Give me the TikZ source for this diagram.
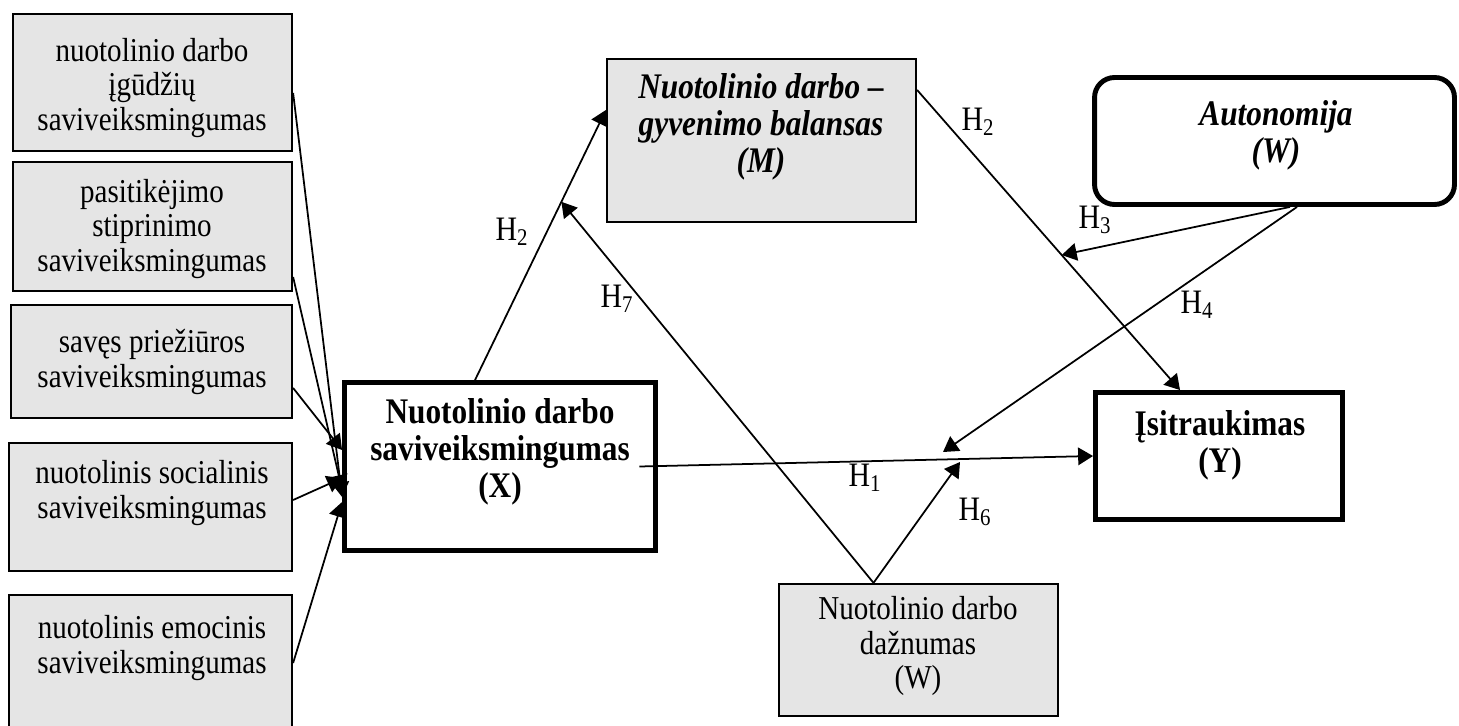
\documentclass[tikz,border=0pt]{standalone}
\usepackage{fontspec}
\setmainfont{Liberation Serif}[FakeStretch=0.87]
\usetikzlibrary{arrows.meta}
\begin{document}
\begin{tikzpicture}[x=0.02cm,y=-0.02cm,
		gbox/.style={draw,fill=gray!20,line width=1.3pt,inner sep=0pt},
		wbox/.style={draw,fill=white,line width=2.8pt,inner sep=0pt},
		txt/.style={align=center,font=\fontsize{19}{19.6}\selectfont},
		btxt/.style={align=center,font=\fontsize{20.5}{21}\selectfont\bfseries},
		itxt/.style={align=center,font=\fontsize{20.5}{21}\selectfont\bfseries\itshape},
		hyp/.style={font=\fontsize{19.5}{20}\selectfont},
		arr/.style={-{Triangle[length=8.5pt,width=10pt]},line width=1pt}]
		\useasboundingbox (0,0) rectangle (1459,726);

		\node[gbox,minimum width=5.58cm,minimum height=2.74cm] (a1) at (152.5,82.5) {};
		\node[gbox,minimum width=5.58cm,minimum height=2.58cm] (a2) at (152.5,226.5) {};
		\node[gbox,minimum width=5.62cm,minimum height=2.26cm] (a3) at (151.5,361.5) {};
		\node[gbox,minimum width=5.66cm,minimum height=2.56cm] (a4) at (150.5,507) {};
		\node[gbox,minimum width=5.66cm,minimum height=2.9cm] (a5) at (150.5,667.5) {};
		\node[txt] (a1t) at (152,88) {nuotolinio darbo\\įgūdžių\\saviveiksmingumas};
		\node[txt] (a2t) at (152,229) {pasitikėjimo\\stiprinimo\\saviveiksmingumas};
		\node[txt] (a3t) at (152,362) {savęs priežiūros\\saviveiksmingumas};
		\node[txt] (a4t) at (152,493) {nuotolinis socialinis\\saviveiksmingumas};
		\node[txt] (a5t) at (152,648) {nuotolinis emocinis\\saviveiksmingumas};

		\node[wbox,minimum width=6.22cm,minimum height=3.36cm] (x) at (500,466.5) {};
		\node[btxt] (xt) at (500,452) {Nuotolinio darbo\\saviveiksmingumas\\(X)};

		\node[gbox,minimum width=6.18cm,minimum height=3.26cm] (m) at (761.5,140.5) {};
		\node[itxt] (mt) at (761,127) {Nuotolinio darbo --\\gyvenimo balansas\\(M)};

		\node[wbox,rounded corners=0.4cm,minimum width=7.2cm,minimum height=2.54cm] (aut) at (1274.5,141) {};
		\node[itxt] (autt) at (1276,135) {Autonomija\\(W)};

		\node[wbox,minimum width=4.94cm,minimum height=2.54cm] (y) at (1219,456) {};
		\node[btxt] (yt) at (1220,445) {Įsitraukimas\\(Y)};

		\node[gbox,minimum width=5.58cm,minimum height=2.64cm] (w) at (918.5,650) {};
		\node[txt] (wt) at (918,646) {Nuotolinio darbo\\dažnumas\\(W)};

		\draw[arr] ([yshift=-0.21cm]a1.east) -- ([yshift=-0.61cm]x.west);
		\draw[arr] ([yshift=-1.01cm]a2.east) -- ([yshift=-0.47cm]x.west);
		\draw[arr] ([yshift=-0.53cm]a3.east) -- ([yshift=0.33cm]x.west);
		\draw[arr] ([yshift=0.14cm]a4.east) -- ([yshift=-0.23cm]x.west);
		\draw[arr] ([yshift=0.09cm]a5.east) -- ([yshift=-0.71cm]x.west);

		\draw[arr] ([xshift=-0.5cm]x.north) -- ([yshift=0.61cm]m.west) coordinate[pos=0.66] (h7end);
		\draw[arr] ([yshift=1.01cm]m.east) -- ([xshift=-0.78cm]y.north) coordinate[pos=0.55] (h3end);
		\draw[arr] ([xshift=-0.37cm]x.east) -- (y.west);
		\coordinate (h4end) at (943,452);
		\coordinate (h6end) at (960,462);
		\draw[arr] ([xshift=0.31cm]aut.south) -- (h3end);
		\draw[arr] ([xshift=0.45cm]aut.south) -- (h4end);
		\draw[arr] ([xshift=-0.9cm]w.north) -- (h6end);
		\draw[arr] ([xshift=-0.9cm]w.north) -- (h7end);

		\node[hyp] (h1) at (865,478) {H\textsubscript{1}};
		\node[hyp] (h2a) at (512,232) {H\textsubscript{2}};
		\node[hyp] (h2b) at (978,122) {H\textsubscript{2}};
		\node[hyp] (h3) at (1095,220) {H\textsubscript{3}};
		\node[hyp] (h4) at (1197,305) {H\textsubscript{4}};
		\node[hyp] (h6) at (975,512) {H\textsubscript{6}};
		\node[hyp] (h7) at (617,299) {H\textsubscript{7}};
\end{tikzpicture}
\end{document}
